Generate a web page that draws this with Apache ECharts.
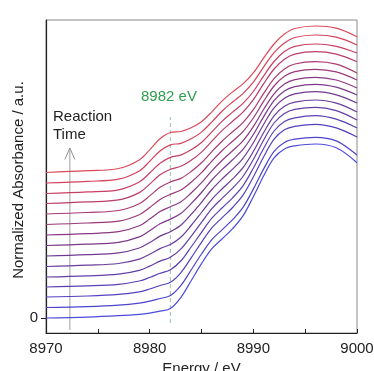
<!DOCTYPE html>
<html>
<head>
<meta charset="utf-8">
<script src="https://cdn.jsdelivr.net/npm/echarts@6/dist/echarts.min.js"></script>
<style>
html,body{margin:0;padding:0;background:#fff;width:100%;height:100%;overflow:hidden;}
#chart{width:100vw;height:100vh;}
</style>
</head>
<body>
<div id="chart"></div>
<script>
// Energy grid (eV)
const energy = [8970, 8974, 8977, 8979, 8980, 8981, 8982, 8983, 8984, 8985, 8986, 8987, 8988, 8989, 8990, 8991, 8992, 8993, 8994, 8996, 8998, 9000];

// Offset normalized absorbance, bottom (early, blue) to top (late, red)
const t01 = [0, 0.009, 0.023, 0.037, 0.049, 0.068, 0.094, 0.204, 0.372, 0.543, 0.693, 0.792, 0.893, 1.021, 1.213, 1.422, 1.601, 1.691, 1.721, 1.740, 1.702, 1.553];
const t02 = [0.105, 0.114, 0.129, 0.149, 0.168, 0.195, 0.224, 0.324, 0.480, 0.640, 0.784, 0.884, 0.983, 1.106, 1.289, 1.491, 1.666, 1.756, 1.788, 1.807, 1.771, 1.630];
const t03 = [0.210, 0.220, 0.236, 0.262, 0.290, 0.325, 0.357, 0.452, 0.602, 0.757, 0.901, 1.004, 1.105, 1.228, 1.410, 1.612, 1.788, 1.882, 1.917, 1.937, 1.901, 1.810];
const t04 = [0.310, 0.321, 0.337, 0.370, 0.405, 0.447, 0.483, 0.570, 0.710, 0.857, 0.998, 1.102, 1.202, 1.322, 1.498, 1.697, 1.870, 1.965, 2.002, 2.023, 1.988, 1.900];
const t05 = [0.410, 0.422, 0.439, 0.477, 0.519, 0.569, 0.608, 0.688, 0.817, 0.956, 1.093, 1.199, 1.299, 1.415, 1.585, 1.780, 1.950, 2.046, 2.086, 2.107, 2.074, 1.980];
const t06 = [0.515, 0.528, 0.545, 0.589, 0.637, 0.694, 0.735, 0.807, 0.925, 1.055, 1.187, 1.293, 1.391, 1.503, 1.665, 1.855, 2.021, 2.117, 2.158, 2.180, 2.148, 2.060];
const t07 = [0.620, 0.633, 0.651, 0.700, 0.755, 0.819, 0.863, 0.927, 1.036, 1.157, 1.285, 1.392, 1.489, 1.597, 1.753, 1.938, 2.101, 2.198, 2.241, 2.263, 2.232, 2.150];
const t08 = [0.725, 0.739, 0.757, 0.811, 0.873, 0.942, 0.989, 1.045, 1.143, 1.255, 1.380, 1.486, 1.582, 1.686, 1.835, 2.014, 2.173, 2.270, 2.314, 2.337, 2.308, 2.230];
const t09 = [0.830, 0.844, 0.863, 0.922, 0.989, 1.064, 1.112, 1.161, 1.250, 1.353, 1.472, 1.578, 1.672, 1.772, 1.914, 2.087, 2.242, 2.339, 2.384, 2.407, 2.380, 2.300];
const t10 = [0.935, 0.950, 0.969, 1.033, 1.105, 1.186, 1.237, 1.279, 1.358, 1.453, 1.569, 1.675, 1.768, 1.864, 2.000, 2.168, 2.320, 2.417, 2.464, 2.487, 2.461, 2.380];
const t11 = [1.040, 1.055, 1.075, 1.143, 1.221, 1.307, 1.360, 1.396, 1.465, 1.552, 1.664, 1.770, 1.862, 1.954, 2.083, 2.246, 2.394, 2.491, 2.540, 2.563, 2.538, 2.450];
const t12 = [1.145, 1.161, 1.181, 1.254, 1.339, 1.432, 1.488, 1.517, 1.578, 1.659, 1.768, 1.876, 1.968, 2.058, 2.183, 2.344, 2.490, 2.588, 2.639, 2.663, 2.639, 2.563];
const t13 = [1.245, 1.261, 1.282, 1.360, 1.450, 1.548, 1.606, 1.629, 1.682, 1.755, 1.861, 1.969, 2.059, 2.146, 2.265, 2.422, 2.565, 2.664, 2.716, 2.740, 2.717, 2.650];
const t14 = [1.350, 1.367, 1.389, 1.471, 1.566, 1.670, 1.731, 1.747, 1.792, 1.859, 1.961, 2.070, 2.160, 2.244, 2.358, 2.511, 2.653, 2.751, 2.805, 2.830, 2.808, 2.730];
const t15 = [1.455, 1.473, 1.495, 1.581, 1.682, 1.792, 1.855, 1.865, 1.902, 1.962, 2.062, 2.171, 2.261, 2.341, 2.451, 2.601, 2.740, 2.839, 2.895, 2.920, 2.899, 2.813];

const spectra = [t01, t02, t03, t04, t05, t06, t07, t08, t09, t10, t11, t12, t13, t14, t15];

// Tick labels
const xTickLabels = ['8970', '8980', '8990', '9000'];
const yTickLabels = ['0'];

// Annotation positions (data coords)
const edgeEnergy = 8982;
const timeArrowEnergy = 8972.3;

const palette = ['#4c4cdc', '#4c44cc', '#5242c0', '#5a40b4', '#623ea8', '#6a3c9c', '#723a92', '#7c388a', '#8a3882', '#9a387a', '#aa3a72', '#ba3c6a', '#c83e62', '#d4425c', '#dc4a5a'];

const FONT = '"Liberation Sans", Arial, sans-serif';

const series = spectra.map((vals, i) => ({
  type: 'line',
  data: energy.map((e, k) => [e, vals[k]]),
  smooth: 0.35,
  showSymbol: false,
  symbol: 'none',
  lineStyle: { color: palette[i], width: 1.2 },
  z: 3,
  silent: true
}));

// dashed 8982 eV line
series.push({
  type: 'line',
  data: [[edgeEnergy, -0.05], [edgeEnergy, 2.01]],
  showSymbol: false, symbol: 'none',
  lineStyle: { color: '#a9c9b9', width: 1.2, type: [4, 3] },
  z: 2, silent: true
});
// reaction time arrow shaft
series.push({
  type: 'line',
  data: [[timeArrowEnergy, -0.12], [timeArrowEnergy, 1.70]],
  showSymbol: false, symbol: 'none',
  lineStyle: { color: '#b0b0b0', width: 1.2 },
  z: 2, silent: true
});
// arrow head
series.push({
  type: 'line',
  data: [[timeArrowEnergy - 0.48, 1.585], [timeArrowEnergy, 1.70], [timeArrowEnergy + 0.48, 1.585]],
  showSymbol: false, symbol: 'none',
  lineStyle: { color: '#909090', width: 1 },
  z: 2, silent: true
});

const chart = echarts.init(document.getElementById('chart'), null, { renderer: 'canvas' });
chart.setOption({
  animation: false,
  backgroundColor: '#fff',
  grid: { left: 46, right: 17, top: 20, bottom: 38, outerBoundsMode: 'none', containLabel: false,
    show: true, borderColor: '#8a8a8a', borderWidth: 1, backgroundColor: 'transparent' },
  xAxis: {
    type: 'value', min: 8970, max: 9000, interval: 5,
    name: 'Energy / eV', nameLocation: 'middle', nameGap: 24,
    nameTextStyle: { fontFamily: FONT, fontSize: 15, color: '#222', verticalAlign: 'top' },
    axisLine: { show: true, onZero: false, lineStyle: { color: '#222', width: 1.2 } },
    axisTick: { show: true, inside: true, length: 4, lineStyle: { color: '#222' } },
    axisLabel: {
      margin: 8, fontFamily: FONT, fontSize: 15, color: '#222',
      formatter: v => xTickLabels.indexOf(String(v)) >= 0 ? String(v) : ''
    },
    splitLine: { show: false }
  },
  yAxis: {
    type: 'value', min: -0.15, max: 2.98,
    axisLine: { show: true, onZero: false, lineStyle: { color: '#222', width: 1.2 } },
    axisTick: { show: true, inside: false, length: 5, customValues: [0], lineStyle: { color: '#222' } },
    axisLabel: { show: true, customValues: [0], margin: 8, fontFamily: FONT, fontSize: 15, color: '#222',
      formatter: v => yTickLabels[0] },
    splitLine: { show: false }
  },
  graphic: [
    { type: 'text', left: 53, top: 108, silent: true,
      style: { text: 'Reaction\nTime', fontFamily: FONT, fontSize: 15, lineHeight: 18, fill: '#222' } },
    { type: 'text', left: 141, top: 89, silent: true,
      style: { text: '8982 eV', fontFamily: FONT, fontSize: 15, fill: '#2ea04e' } },
    { type: 'text', x: 18.5, y: 180, rotation: Math.PI / 2, silent: true,
      style: { text: 'Normalized Absorbance / a.u.', fontFamily: FONT, fontSize: 15, fill: '#222', align: 'center', verticalAlign: 'middle' } }
  ],
  series: series
});
window.addEventListener('resize', () => chart.resize());
</script>
</body>
</html>
